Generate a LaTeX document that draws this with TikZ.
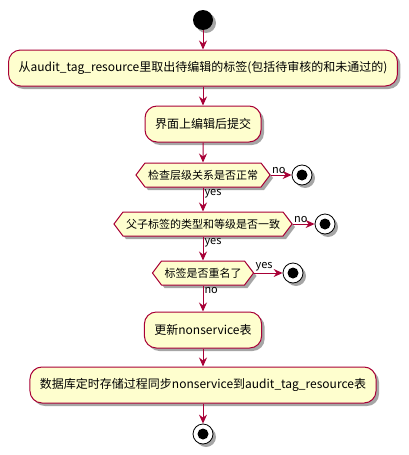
\documentclass[tikz,border=0pt]{standalone}
\usepackage{fontspec}
\setmainfont{Noto Sans CJK SC}
\usetikzlibrary{arrows.meta,shapes.symbols,shadows}
\definecolor{umlred}{HTML}{A80036}
\definecolor{umlfill}{HTML}{FEFECE}
\begin{document}
\begin{tikzpicture}[x=1pt,y=-1pt,
  umlshadow/.style={drop shadow={shadow xshift=3pt, shadow yshift=-3pt, opacity=0.35, fill=black}},
  act/.style={draw=umlred, fill=umlfill, line width=1pt, rounded corners=12pt, minimum height=36pt, inner xsep=10pt, font=\fontsize{12}{14}\selectfont, umlshadow},
  check/.style={signal, signal to=east and west, signal pointer angle=106, draw=umlred, fill=umlfill, line width=1pt, minimum height=24pt, inner xsep=3pt, inner ysep=2pt, font=\fontsize{11}{13}\selectfont, umlshadow},
  startdot/.style={circle, fill=black, minimum size=20pt, inner sep=0pt, umlshadow},
  stopdot/.style={circle, draw=black, fill=white, line width=0.8pt, minimum size=20pt, inner sep=0pt, umlshadow, path picture={\fill[black] (path picture bounding box.center) circle (5.5pt);}},
  flow/.style={draw=umlred, line width=1pt, -{Stealth[length=9pt, width=8pt, inset=3pt]}},
  lbl/.style={font=\fontsize{11}{13}\selectfont, inner sep=1pt, text=black}]
\useasboundingbox (0,0) rectangle (408,455);
\node[startdot] (start) at (203,20) {};
\node[act] (fetch) at (203,68) {从audit\_tag\_resource里取出待编辑的标签(包括待审核的和未通过的)};
\node[act] (edit) at (203,124) {界面上编辑后提交};
\node[check] (level) at (203,175) {检查层级关系是否正常};
\node[stopdot] (stopa) at (302,175) {};
\node[check] (grade) at (203,224) {父子标签的类型和等级是否一致};
\node[stopdot] (stopb) at (325,224) {};
\node[check] (dup) at (203,273) {标签是否重名了};
\node[stopdot] (stopc) at (293,273) {};
\node[act] (update) at (203,330) {更新nonservice表};
\node[act] (sync) at (203,385) {数据库定时存储过程同步nonservice到audit\_tag\_resource表};
\node[stopdot] (stop) at (203,434) {};
% main flow
\draw[flow] (start) -- (fetch);
\draw[flow] (fetch) -- (edit);
\draw[flow] (edit) -- (level);
\draw[flow] (level.east) -- (stopa) node[lbl, pos=0, anchor=south west] {no};
\draw[flow] (level.south) -- (grade.north) node[lbl, pos=0, anchor=north west] {yes};
\draw[flow] (grade.east) -- (stopb) node[lbl, pos=0, anchor=south west] {no};
\draw[flow] (grade.south) -- (dup.north) node[lbl, pos=0, anchor=north west] {yes};
\draw[flow] (dup.east) -- (stopc) node[lbl, pos=0, anchor=south west] {yes};
\draw[flow] (dup.south) -- (update) node[lbl, pos=0, anchor=north west] {no};
\draw[flow] (update) -- (sync);
\draw[flow] (sync) -- (stop);
\end{tikzpicture}
\end{document}
